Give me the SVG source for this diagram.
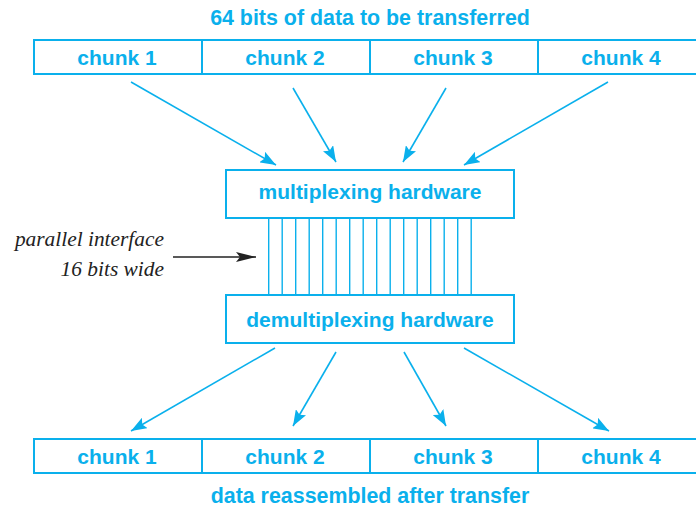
<svg xmlns="http://www.w3.org/2000/svg" width="696" height="508" viewBox="0 0 696 508">
<defs>
<style>
.box{fill:none;stroke:#0AB0EC;stroke-width:2}
.lbl{font-family:"Liberation Sans",Arial,sans-serif;font-weight:bold;font-size:21px;fill:#0AB0EC;text-anchor:middle}
.ttl{font-family:"Liberation Sans",Arial,sans-serif;font-weight:bold;font-size:21.4px;fill:#0AB0EC;text-anchor:middle}
.it{font-family:"Liberation Serif","Times New Roman",serif;font-style:italic;font-size:21.4px;fill:#222;text-anchor:end}
.ar{stroke:#0AB0EC;stroke-width:1.6;fill:none;marker-end:url(#ah)}
.wire{stroke:#0AB0EC;stroke-width:1.4}
</style>
<marker id="ah" markerUnits="userSpaceOnUse" markerWidth="18" markerHeight="12" refX="16" refY="6" orient="auto">
<path d="M0,0 L16,6 L0,12 L3,6 Z" fill="#0AB0EC"/>
</marker>
<marker id="bh" markerUnits="userSpaceOnUse" markerWidth="22" markerHeight="10" refX="20" refY="5" orient="auto">
<path d="M0,0 L20,5 L0,10 L4,5 Z" fill="#222"/>
</marker>
</defs>
<text class="ttl" x="370" y="25">64 bits of data to be transferred</text>
<g id="top-chunks">
<rect class="box" x="34" y="40" width="672" height="34"/>
<line class="box" x1="202" y1="40" x2="202" y2="74"/>
<line class="box" x1="370" y1="40" x2="370" y2="74"/>
<line class="box" x1="538" y1="40" x2="538" y2="74"/>
<text class="lbl" x="117" y="65">chunk 1</text>
<text class="lbl" x="285" y="65">chunk 2</text>
<text class="lbl" x="453" y="65">chunk 3</text>
<text class="lbl" x="621" y="65">chunk 4</text>
</g>
<g id="mux">
<rect class="box" x="226" y="170" width="288" height="48"/>
<text class="lbl" x="370" y="199">multiplexing hardware</text>
</g>
<g id="demux">
<rect class="box" x="226" y="295" width="288" height="48"/>
<text class="lbl" x="370" y="327">demultiplexing hardware</text>
</g>
<g id="bottom-chunks">
<rect class="box" x="34" y="439" width="672" height="34"/>
<line class="box" x1="202" y1="439" x2="202" y2="473"/>
<line class="box" x1="370" y1="439" x2="370" y2="473"/>
<line class="box" x1="538" y1="439" x2="538" y2="473"/>
<text class="lbl" x="117" y="464">chunk 1</text>
<text class="lbl" x="285" y="464">chunk 2</text>
<text class="lbl" x="453" y="464">chunk 3</text>
<text class="lbl" x="621" y="464">chunk 4</text>
</g>
<text class="ttl" x="370" y="503">data reassembled after transfer</text>
<g id="interface-label">
<text class="it" x="164" y="246">parallel interface</text>
<text class="it" x="164" y="276">16 bits wide</text>
</g>
<g id="connectors">
<line class="ar" x1="131" y1="82" x2="276" y2="165"/>
<line class="ar" x1="293" y1="88" x2="336" y2="162"/>
<line class="ar" x1="446" y1="88" x2="403" y2="162"/>
<line class="ar" x1="608" y1="82" x2="464" y2="165"/>
<line class="ar" x1="275" y1="348" x2="131" y2="431"/>
<line class="ar" x1="336" y1="352" x2="293" y2="426"/>
<line class="ar" x1="404" y1="352" x2="446" y2="426"/>
<line class="ar" x1="464" y1="348" x2="609" y2="431"/>
<line x1="173" y1="257" x2="256" y2="257" stroke="#222" stroke-width="1.3" marker-end="url(#bh)"/>
<g class="wire">
<line x1="268.7" y1="218" x2="268.7" y2="295"/>
<line x1="282.2" y1="218" x2="282.2" y2="295"/>
<line x1="295.7" y1="218" x2="295.7" y2="295"/>
<line x1="309.2" y1="218" x2="309.2" y2="295"/>
<line x1="322.7" y1="218" x2="322.7" y2="295"/>
<line x1="336.2" y1="218" x2="336.2" y2="295"/>
<line x1="349.7" y1="218" x2="349.7" y2="295"/>
<line x1="363.2" y1="218" x2="363.2" y2="295"/>
<line x1="376.7" y1="218" x2="376.7" y2="295"/>
<line x1="390.2" y1="218" x2="390.2" y2="295"/>
<line x1="403.7" y1="218" x2="403.7" y2="295"/>
<line x1="417.2" y1="218" x2="417.2" y2="295"/>
<line x1="430.7" y1="218" x2="430.7" y2="295"/>
<line x1="444.2" y1="218" x2="444.2" y2="295"/>
<line x1="457.7" y1="218" x2="457.7" y2="295"/>
<line x1="471.2" y1="218" x2="471.2" y2="295"/>
</g>
</g>
</svg>
